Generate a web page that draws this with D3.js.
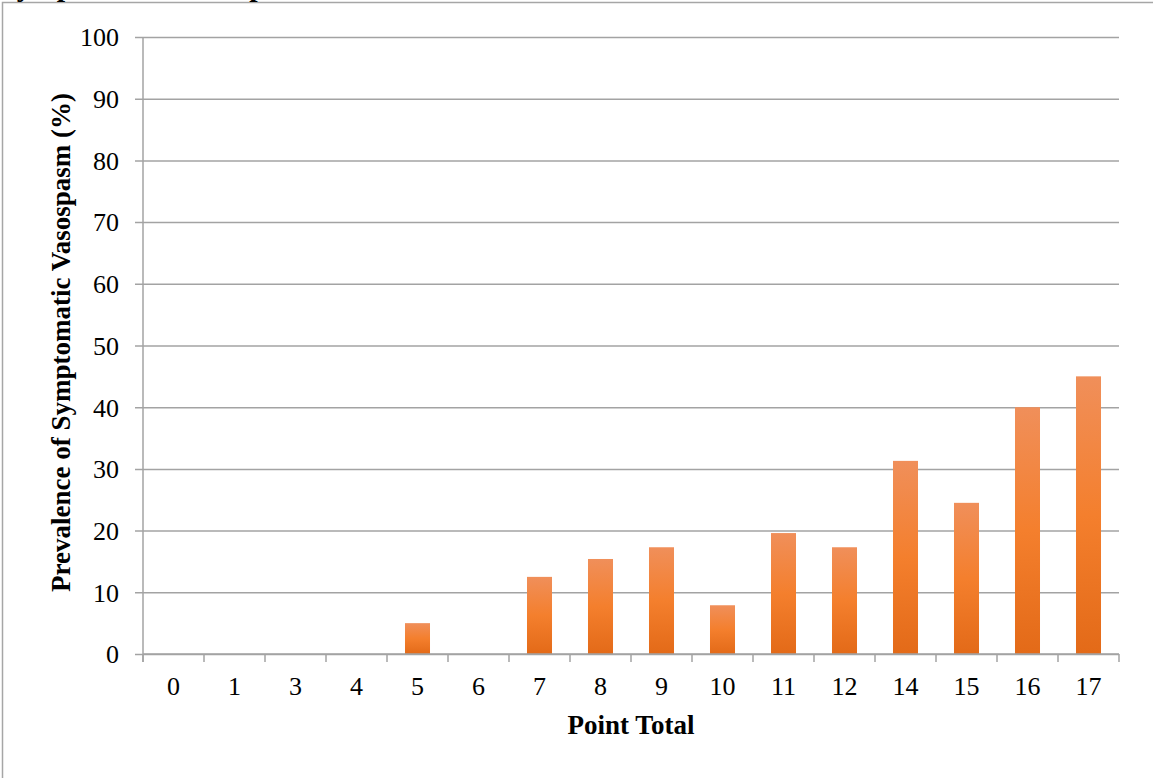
<!DOCTYPE html>
<html>
<head>
<meta charset="utf-8">
<script src="https://cdn.jsdelivr.net/npm/d3@7"></script>
<style>
  html, body { margin: 0; padding: 0; background: #fff; }
  svg { display: block; }
  svg text { font-family: "Liberation Serif", "Times New Roman", serif; fill: #000; }
</style>
</head>
<body>
<svg id="chart" width="1153" height="778"></svg>
<script>
// Point totals on the x axis and prevalence (%) for each
const pointTotals = ["0", "1", "3", "4", "5", "6", "7", "8", "9", "10", "11", "12", "14", "15", "16", "17"];
const prevalence = [0, 0, 0, 0, 5.0, 0, 12.5, 15.4, 17.3, 7.9, 19.6, 17.3, 31.3, 24.5, 40.0, 45.0];
const yTicks = [0, 10, 20, 30, 40, 50, 60, 70, 80, 90, 100];

const chartTitle = "Symptomatic Vasospasm";
const yTitle = "Prevalence of Symptomatic Vasospasm (%)";
const xTitle = "Point Total";

const SERIF = "'Liberation Serif', 'Times New Roman', serif";
const data = pointTotals.map((p, i) => ({ p, v: prevalence[i] }));

const svg = d3.select("#chart");
const W = 1153, H = 778;
const plot = { left: 143, right: 1119, top: 37, bottom: 654 };

// Frame of the chart area
svg.append("rect")
  .attr("x", 2.5).attr("y", 2.5)
  .attr("width", W + 10).attr("height", H + 10)
  .attr("fill", "none").attr("stroke", "#a6a6a6").attr("stroke-width", 1.5);

// Title sits above the visible frame
svg.append("text")
  .attr("x", 0).attr("y", -4)
  .style("font-family", SERIF)
  .attr("font-size", 30).attr("font-weight", "bold")
  .text(chartTitle);

const x = d3.scaleBand()
  .domain(pointTotals)
  .range([plot.left, plot.right])
  .paddingInner(0.59)
  .paddingOuter(0.295);

const y = d3.scaleLinear()
  .domain([0, 100])
  .range([plot.bottom, plot.top]);

// Bar gradient: lighter at top, deeper orange at the base
const defs = svg.append("defs");
const grad = defs.append("linearGradient")
  .attr("id", "barFill")
  .attr("x1", 0).attr("y1", 0).attr("x2", 0).attr("y2", 1);
grad.append("stop").attr("offset", "0%").attr("stop-color", "#f08f5a");
grad.append("stop").attr("offset", "50%").attr("stop-color", "#f47f2d");
grad.append("stop").attr("offset", "100%").attr("stop-color", "#e36a18");

// Horizontal gridlines with their left tick marks
const yAxis = d3.axisLeft(y)
  .tickValues(yTicks)
  .tickSize(-(plot.right - plot.left))
  .tickSizeOuter(0)
  .tickPadding(24)
  .tickFormat(d3.format("d"));

const gy = svg.append("g")
  .attr("transform", `translate(${plot.left},0)`)
  .call(yAxis)
  .attr("font-family", null)
  .attr("font-size", null);
gy.select(".domain").remove();
gy.selectAll(".tick line")
  .attr("x1", -8)
  .attr("stroke", "#a3a3a3").attr("stroke-width", 1.5);
gy.selectAll(".tick text")
  .style("font-family", SERIF)
  .style("font-size", "26px")
  .attr("fill", "#000")
  .attr("dy", "0.34em");

// Vertical axis line
svg.append("line")
  .attr("x1", plot.left).attr("x2", plot.left)
  .attr("y1", plot.top).attr("y2", plot.bottom + 8)
  .attr("stroke", "#a3a3a3").attr("stroke-width", 1.5);

// Bars
svg.append("g").selectAll("rect")
  .data(data)
  .join("rect")
  .attr("x", d => x(d.p))
  .attr("width", x.bandwidth())
  .attr("y", d => y(d.v))
  .attr("height", d => y(0) - y(d.v))
  .attr("fill", "url(#barFill)");

// Baseline with category divider ticks
svg.append("line")
  .attr("x1", plot.left).attr("x2", plot.right)
  .attr("y1", plot.bottom).attr("y2", plot.bottom)
  .attr("stroke", "#a3a3a3").attr("stroke-width", 1.5);

const step = x.step();
const dividers = d3.range(pointTotals.length + 1);
svg.append("g").selectAll("line")
  .data(dividers)
  .join("line")
  .attr("x1", i => plot.left + i * step)
  .attr("x2", i => plot.left + i * step)
  .attr("y1", plot.bottom)
  .attr("y2", plot.bottom + 8)
  .attr("stroke", "#a3a3a3").attr("stroke-width", 1.5);

// Category labels
svg.append("g").selectAll("text")
  .data(pointTotals)
  .join("text")
  .attr("x", d => x(d) + x.bandwidth() / 2)
  .attr("y", 695)
  .attr("text-anchor", "middle")
  .style("font-family", SERIF)
  .style("font-size", "26px")
  .text(d => d);

// Axis titles
svg.append("text")
  .attr("x", (plot.left + plot.right) / 2)
  .attr("y", 734)
  .attr("text-anchor", "middle")
  .style("font-family", SERIF)
  .style("font-size", "27px")
  .attr("font-weight", "bold")
  .text(xTitle);

svg.append("text")
  .attr("transform", `translate(70,${(plot.top + plot.bottom) / 2 - 3}) rotate(-90)`)
  .attr("text-anchor", "middle")
  .style("font-family", SERIF)
  .style("font-size", "27px")
  .attr("font-weight", "bold")
  .text(yTitle);
</script>
</body>
</html>
